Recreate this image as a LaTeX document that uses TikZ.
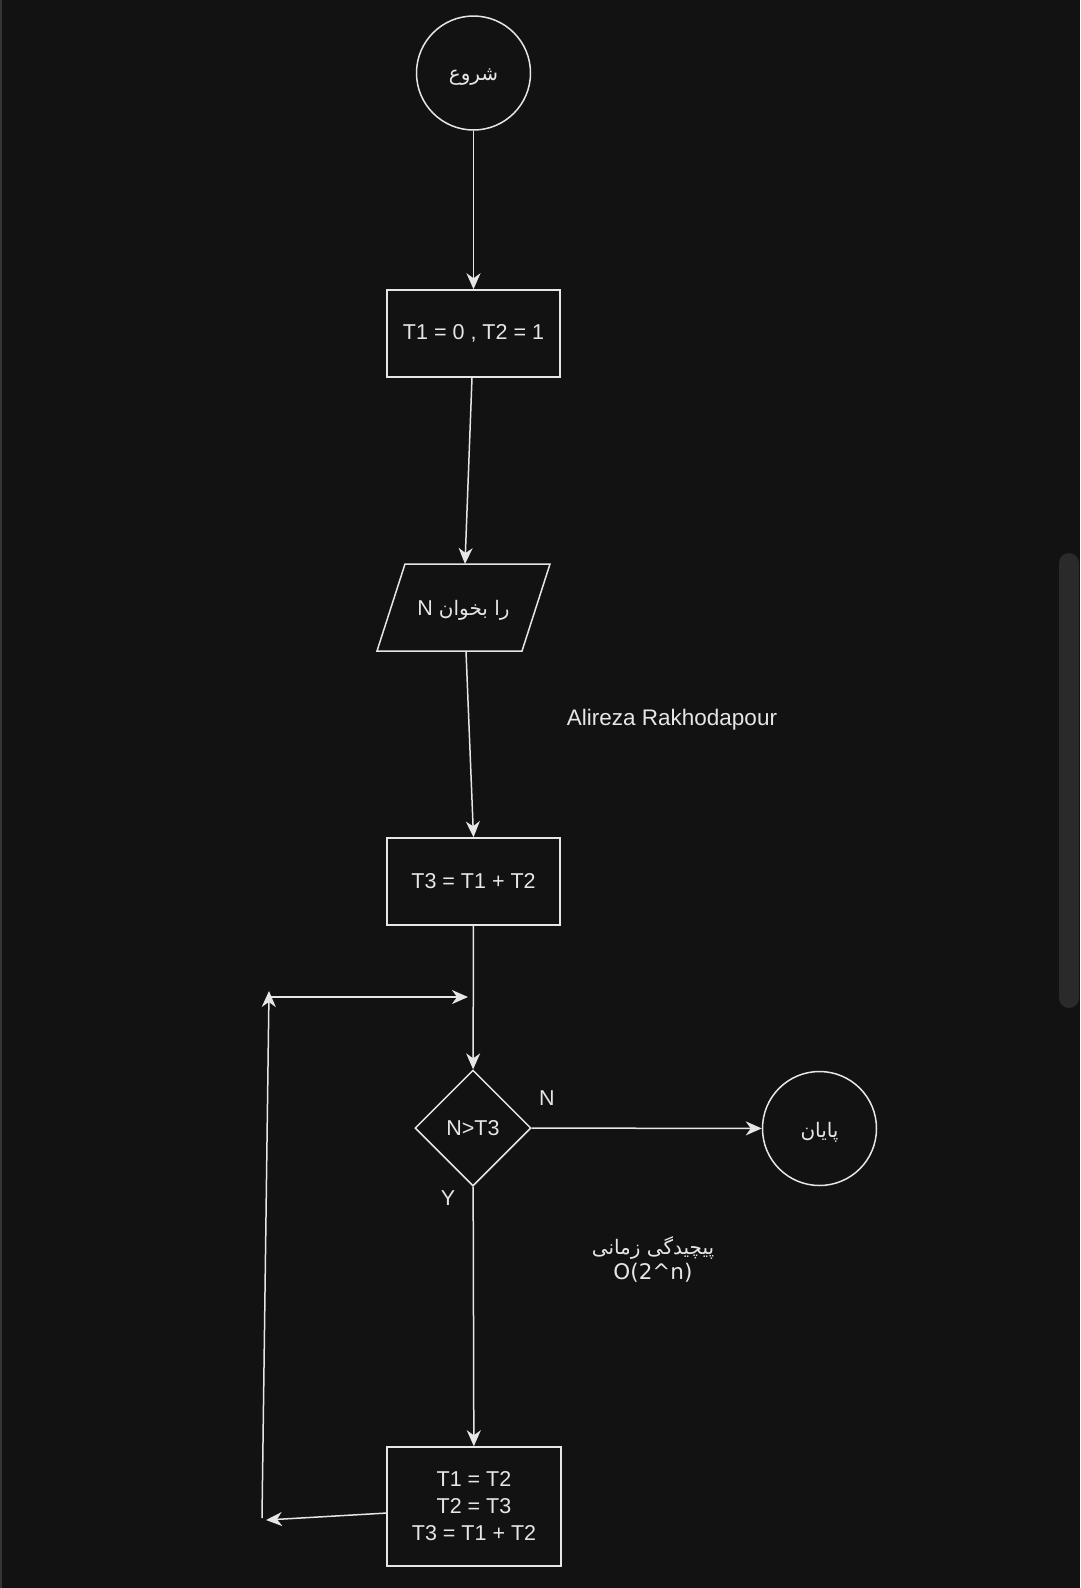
\documentclass[tikz,border=0pt]{standalone}
\usepackage{fontspec}
\setmainfont{Liberation Sans}
\newfontfamily\arabicfont[Script=Arabic]{DejaVu Sans}
\TeXXeTstate=1
\usetikzlibrary{shapes.geometric,arrows.meta}
\definecolor{bgc}{HTML}{121212}
\definecolor{fgc}{HTML}{E6E6E6}
\definecolor{barc}{HTML}{2A2A2A}
\definecolor{edgec}{HTML}{353535}
\tikzset{
  shp/.style={draw=fgc, line width=1.5pt, text=fgc, inner sep=0pt, font=\fontsize{21.5}{27}\selectfont},
  boxnode/.style={shp, rectangle, minimum width=173pt, minimum height=87pt, align=center},
  circnode/.style={shp, circle, minimum size=114pt},
  decnode/.style={shp, diamond, minimum width=116pt, minimum height=116pt},
  conn/.style={draw=fgc, line width=1.5pt, -{Stealth[length=16pt, width=14pt, inset=5pt]}},
  plainline/.style={draw=fgc, line width=1.5pt},
  lbl/.style={text=fgc, inner sep=0pt, font=\fontsize{21.5}{27}\selectfont},
  arlbl/.style={text=fgc, inner sep=0pt, font=\arabicfont\fontsize{20}{26}\selectfont}
}
\begin{document}
\begin{tikzpicture}[x=1pt,y=-1pt]
\useasboundingbox (0,0) rectangle (1080,1588);
\fill[bgc] (0,0) rectangle (1080,1588);
\fill[edgec] (0,0) rectangle (2,1588);
\fill[barc, rounded corners=10pt] (1059,553) rectangle (1079,1008);

\node[circnode] (start) at (473.5,73) {};
\node[arlbl] (startt) at (473.5,77) {\beginR شروع\endR};
\node[boxnode] (init) at (473.5,333.5) {T1 = 0 , T2 = 1};

\coordinate (pa) at (405,564);
\coordinate (pb) at (550,564);
\coordinate (pc) at (522,651);
\coordinate (pd) at (377,651);
\draw[plainline] (pa) -- (pb) -- (pc) -- (pd) -- cycle;
\coordinate (rtop) at (465,564);
\coordinate (rbot) at (466,651);
\node[lbl] (read) at (463.5,610) {N \arabicfont\fontsize{20}{26}\selectfont\beginR را بخوان\endR};

\node[lbl] (author) at (672,720) {\fontsize{22.5}{27}\selectfont Alireza Rakhodapour};

\node[boxnode] (calc) at (473.5,881.5) {T3 = T1 + T2};
\node[decnode] (cond) at (473,1128) {N>T3};
\node[circnode] (end) at (819.5,1128.5) {};
\node[arlbl] (endt) at (819.5,1132) {\beginR پایان\endR};
\node[boxnode, minimum height=119pt, minimum width=174pt] (upd) at (474,1506.5) {T1 = T2\\T2 = T3\\T3 = T1 + T2};

\node[lbl] (nlbl) at (547,1098) {N};
\node[lbl] (ylbl) at (448,1198) {Y};
\node[arlbl, align=center] (cplx) at (653,1259) {\beginR پیچیدگی زمانی\endR\\[-1pt]\fontsize{21.5}{25}\selectfont O(2\^{}n)};

\coordinate (loopR) at (468,997);
\coordinate (loopL) at (269,997);
\coordinate (loopTop) at (269,991);
\coordinate (loopBot) at (262,1518);
\coordinate (backTip) at (266,1520);
\coordinate (updL) at (387,1513);

\draw[conn] (start) -- (init);
\draw[conn] (init.south -| 472,0) -- (rtop);
\draw[conn] (rbot) -- (calc.north);
\draw[conn] (calc) -- (cond);
\draw[conn] (cond) -- (end);
\draw[conn] (cond) -- (upd);
\draw[conn] (updL) -- (backTip);
\draw[conn] (loopBot) -- (loopTop);
\draw[conn] (loopL) -- (loopR);
\end{tikzpicture}
\end{document}
